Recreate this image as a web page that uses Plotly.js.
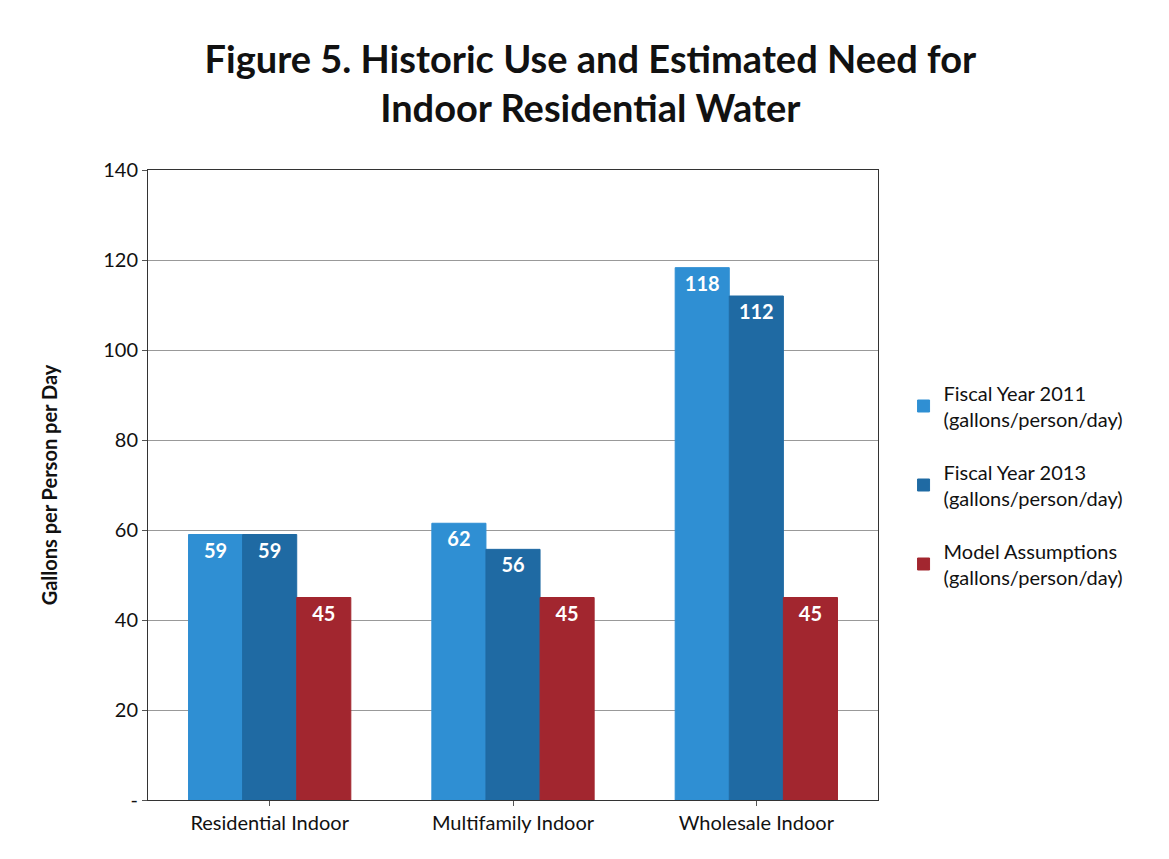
<!DOCTYPE html>
<html>
<head>
<meta charset="utf-8">
<script src="https://cdn.plot.ly/plotly-3.0.1.min.js"></script>
<style>body{margin:0;background:#fff}#chart{width:1169px;height:859px}</style>
</head>
<body>
<div id="chart"></div>
<script>
var categories = ['Residential Indoor', 'Multifamily Indoor', 'Wholesale Indoor'];
var fy2011 = [59, 61.5, 118.3];
var fy2013 = [59, 55.7, 112];
var model = [45, 45, 45];
var fy2011Labels = ['59', '62', '118'];
var fy2013Labels = ['59', '56', '112'];
var modelLabels = ['45', '45', '45'];
var seriesNames = ['Fiscal Year 2011<br>(gallons/person/day)', 'Fiscal Year 2013<br>(gallons/person/day)', 'Model Assumptions<br>(gallons/person/day)'];
var yTicks = [0, 20, 40, 60, 80, 100, 120, 140];
var yTickText = ['-', '20', '40', '60', '80', '100', '120', '140'];

function trace(vals, labels, name, color, grp) {
  return {
    type: 'bar', x: categories, y: vals, name: name, text: labels, legendgroup: grp,
    textposition: 'inside', insidetextanchor: 'end',
    textfont: {color: '#fff', size: 20, family: 'Lato', weight: 'bold'},
    marker: {color: color, line: {color: color, width: 1}},
    hoverinfo: 'none'
  };
}
var data = [
  trace(fy2011, fy2011Labels, seriesNames[0], '#2f8fd3', 'a'),
  trace(fy2013, fy2013Labels, seriesNames[1], '#1f6aa3', 'b'),
  trace(model, modelLabels, seriesNames[2], '#a2262f', 'c')
];
var layout = {
  width: 1169, height: 859,
  font: {family: 'Lato', color: '#111', size: 20},
  title: {text: '<b>Figure 5. Historic Use and Estimated Need for<br>Indoor Residential Water</b>', font: {size: 38, color: '#111'}, x: 0.505, y: 0.915, xanchor: 'center'},
  margin: {l: 148, r: 291, t: 170, b: 59},
  barmode: 'group', bargap: 0.333, bargroupgap: 0,
  showlegend: true,
  legend: {x: 1.035, y: 0.5, yanchor: 'middle', font: {size: 20}, traceorder: 'grouped', tracegroupgap: 24},
  xaxis: {showline: true, linecolor: '#333', mirror: true, ticks: 'outside', ticklen: 5, tickcolor: '#555', tickfont: {size: 20}},
  yaxis: {range: [0, 140], tickvals: yTicks, ticktext: yTickText, showgrid: true, gridcolor: '#999',
    showline: true, linecolor: '#333', mirror: true, ticks: 'outside', ticklen: 5, tickcolor: '#555',
    tickfont: {size: 20},
    title: {text: '<b>Gallons per Person per Day</b>', font: {size: 20}, standoff: 40}}
};
Plotly.newPlot('chart', data, layout, {staticPlot: true});
</script>
</body>
</html>
